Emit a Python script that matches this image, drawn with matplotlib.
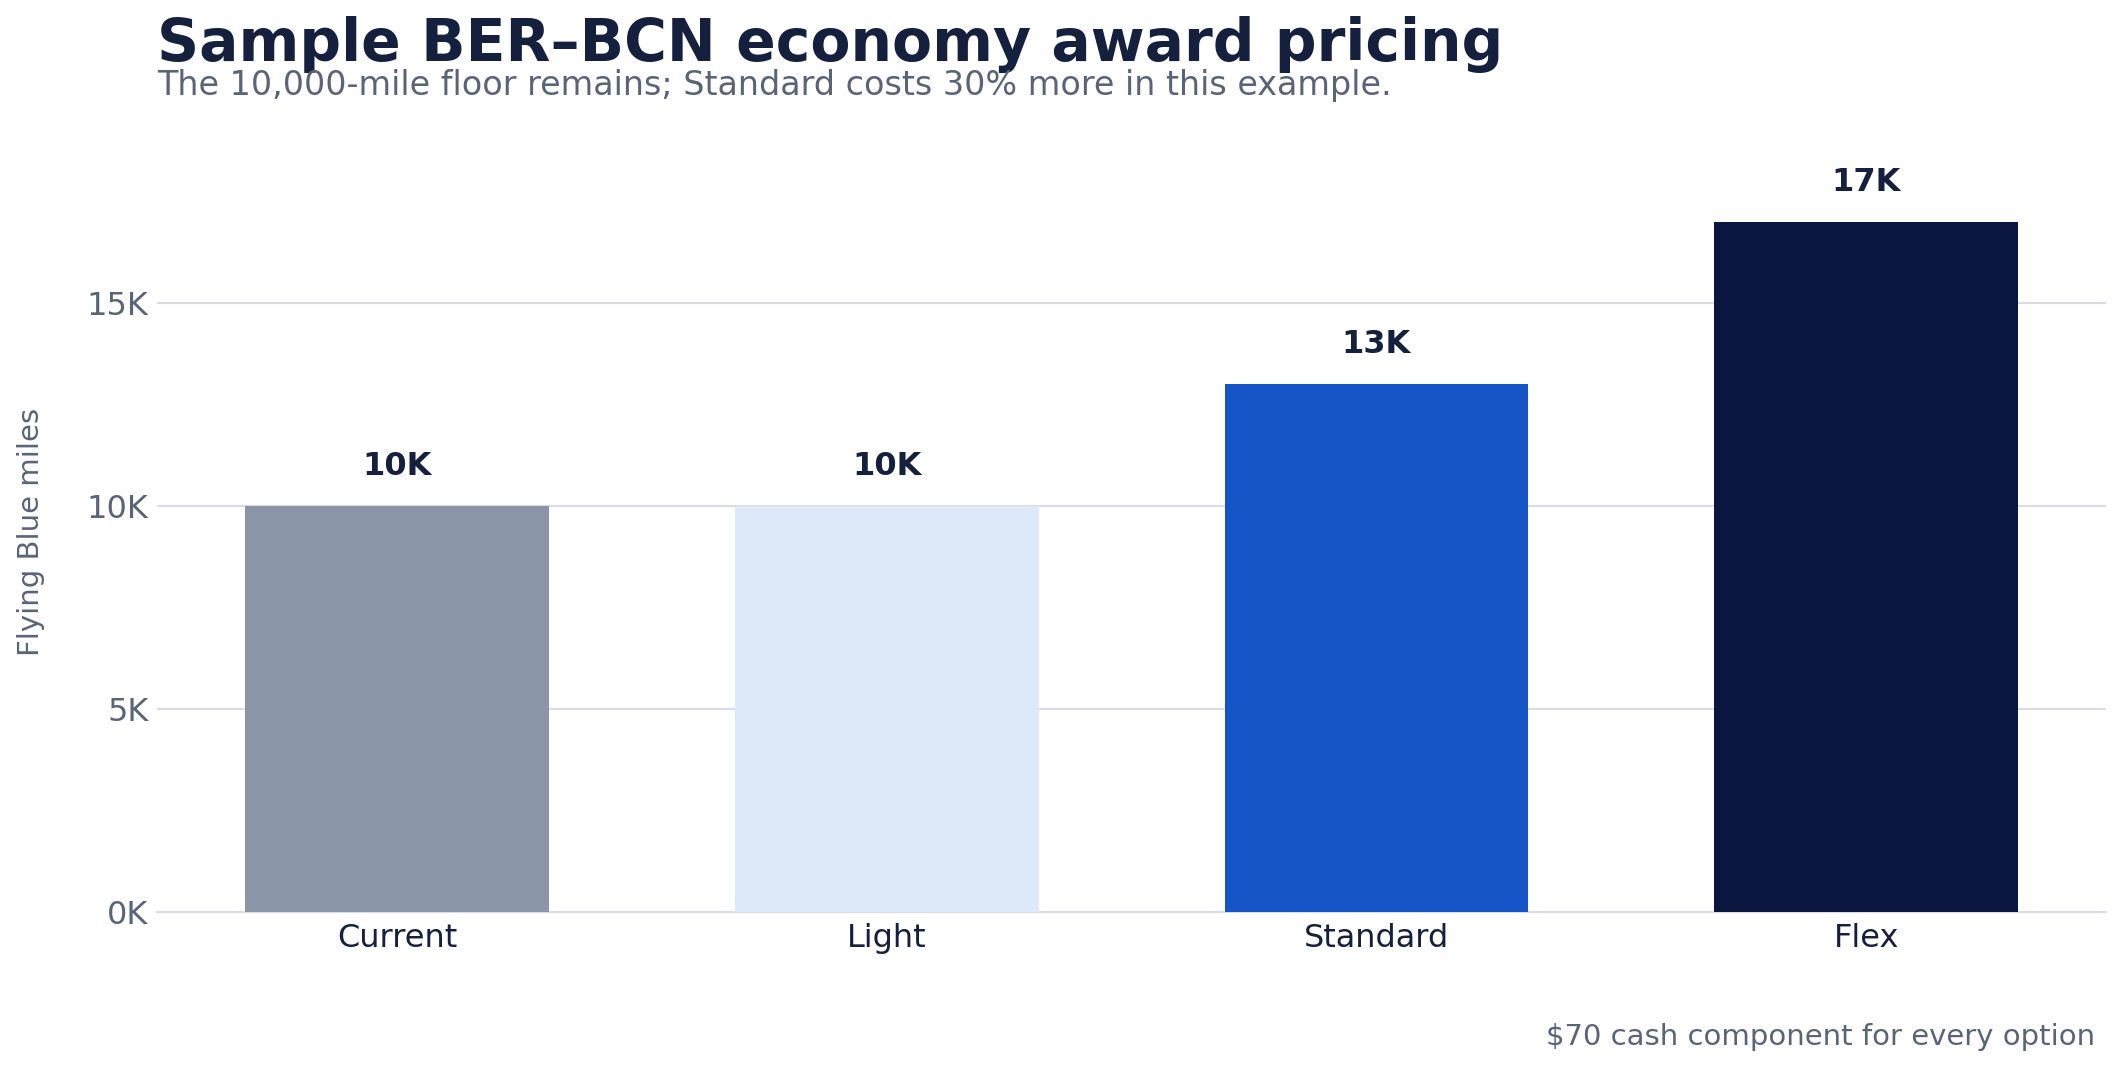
import matplotlib.pyplot as plt

labels = ['Current', 'Light', 'Standard', 'Flex']
miles = [10000, 10000, 13000, 17000]
colors = ['#8a95a8', '#dde8f8', '#1555c8', '#0a1640']

fig = plt.figure(figsize=(21.21, 10.69), dpi=100)
ax = fig.add_axes([0.074, 0.147, 0.919, 0.71])

ax.bar(range(len(labels)), miles, width=0.62, color=colors, zorder=3)
for i, v in enumerate(miles):
    ax.text(i, v + 600, f'{v//1000}K', ha='center', va='bottom',
            fontsize=23, fontweight='bold', color='#14203d')

ax.set_ylim(0, 18700)
ax.set_xlim(-0.49, 3.49)
ax.set_yticks([0, 5000, 10000, 15000])
ax.set_yticklabels(['0K', '5K', '10K', '15K'])
ax.set_xticks(range(len(labels)))
ax.set_xticklabels(labels)
ax.tick_params(axis='y', labelsize=23, labelcolor='#5a6478', length=0, pad=6)
ax.tick_params(axis='x', labelsize=23, labelcolor='#14203d', length=0, pad=8)
ax.grid(axis='y', color='#d9dce8', linewidth=1.5, zorder=0)
for s in ['top', 'right', 'left']:
    ax.spines[s].set_visible(False)
ax.spines['bottom'].set_color('#d9dce8')
ax.spines['bottom'].set_linewidth(1.5)
ax.set_ylabel('Flying Blue miles', fontsize=21, color='#5a6478', labelpad=30)

fig.text(0.074, 0.985, 'Sample BER–BCN economy award pricing', fontsize=42,
         fontweight='bold', color='#14203d', va='top')
fig.text(0.074, 0.935, 'The 10,000-mile floor remains; Standard costs 30% more in this example.',
         fontsize=24, color='#5a6478', va='top')
fig.text(0.988, 0.03, '$70 cash component for every option', fontsize=21,
         color='#5a6478', ha='right', va='center')

fig.savefig('out.png')
